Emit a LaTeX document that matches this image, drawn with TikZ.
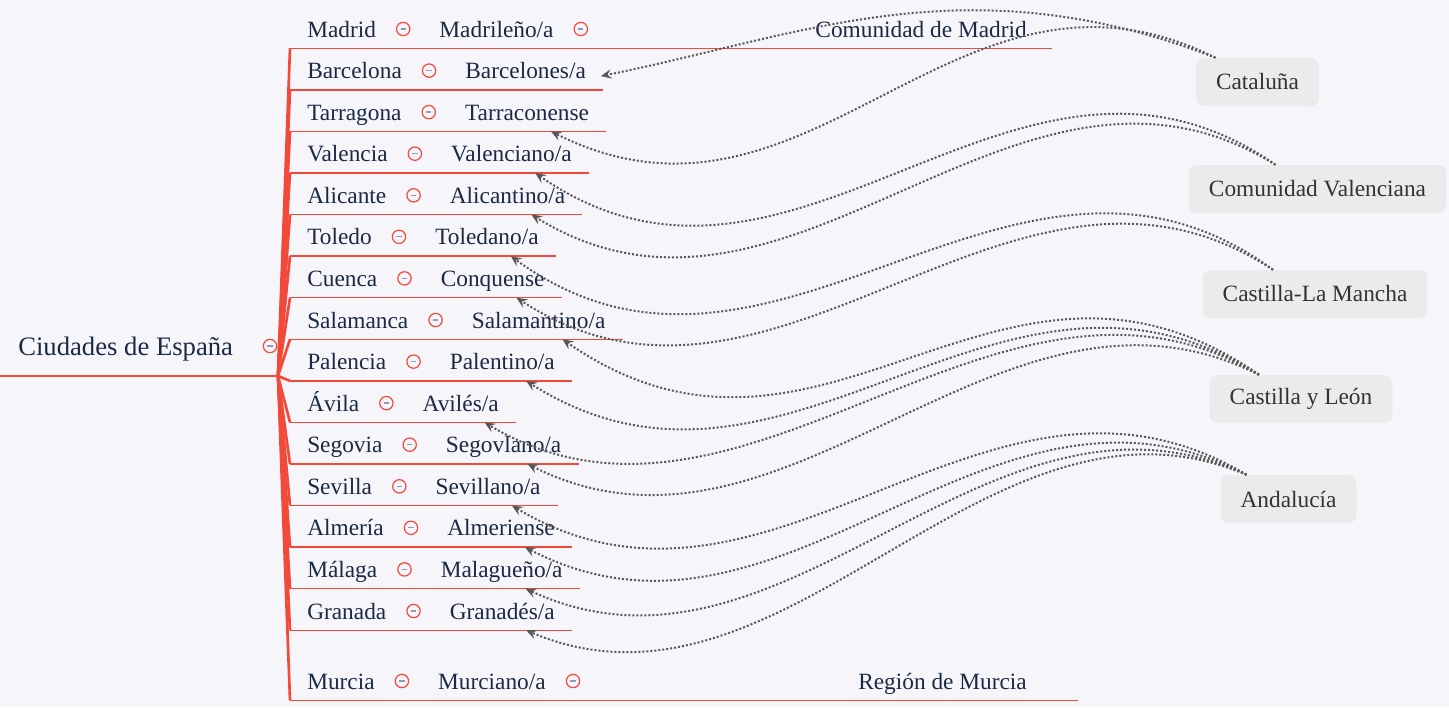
\documentclass[tikz,border=0pt]{standalone}
\usepackage{fontspec}
\setmainfont{Liberation Serif}
\usetikzlibrary{arrows.meta}
\definecolor{mapred}{HTML}{F2493A}
\definecolor{inkblue}{HTML}{1B2A42}
\definecolor{boxgray}{HTML}{EBEBEB}
\definecolor{relgray}{HTML}{585858}
\definecolor{paper}{HTML}{F5F5FA}
\definecolor{dashblue}{HTML}{8D9AB6}
\tikzset{
  city/.style={font=\fontsize{17.5}{20}\selectfont, text=inkblue, inner sep=0pt,
    text height=12pt, text depth=8.25pt, anchor=base west},
  fold/.style={circle, draw=mapred, line width=0.9pt, minimum size=10pt, inner sep=0pt,
    path picture={\draw[dashblue, line width=1pt]
      ([xshift=-2pt]path picture bounding box.center) -- ([xshift=2pt]path picture bounding box.center);}},
  trunk/.style={mapred, line width=2pt},
  branch/.style={mapred, line width=1.1pt},
  region/.style={fill=boxgray, rounded corners=6pt, minimum height=36pt, inner xsep=15pt,
    font=\fontsize{17.5}{20}\selectfont, text=black!80},
  rel/.style={relgray, line width=1.5pt, dash pattern=on 1.5pt off 1.5pt,
    -{Stealth[length=8pt,width=7pt,inset=3pt]}},
}
\begin{document}
\begin{tikzpicture}[x=0.75pt, y=-0.75pt]
\fill[paper] (0,0) rectangle (1449,707);
\useasboundingbox (0,0) rectangle (1449,707);

% root
\coordinate (hub) at (278,376);
\coordinate (rootstart) at (0,376);
\node[city, font=\fontsize{20}{24}\selectfont] (root) at (18,355) {Ciudades de España};
\node[fold] (f0) at (270,346) {};
\draw[branch, line width=1.5pt] (rootstart) -- (hub);

% cities
\foreach \n/\y/\c/\d in {1/37/Madrid/{Madrileño/a}, 2/78.6/Barcelona/{Barcelones/a},
    3/120.1/Tarragona/Tarraconense, 4/161.7/Valencia/{Valenciano/a},
    5/203.3/Alicante/{Alicantino/a}, 6/244.8/Toledo/{Toledano/a},
    7/286.4/Cuenca/Conquense, 8/328/Salamanca/{Salamantino/a},
    9/369.6/Palencia/{Palentino/a}, 10/411.1/Ávila/{Avilés/a},
    11/452.7/Segovia/{Segovlano/a}, 12/494.3/Sevilla/{Sevillano/a},
    13/535.8/Almería/Almeriense, 14/577.4/Málaga/{Malagueño/a},
    15/619/Granada/{Granadés/a}, 16/689/Murcia/{Murciano/a}}{
  \node[city] (c\n) at (307,\y) {\c};
  \node[fold] (f\n) at ([shift={(27,-8)}]c\n.base east) {};
  \node[city] (d\n) at ([shift={(36,8)}]f\n.center) {\d};
  \draw[trunk] (hub) -- ([xshift=-12.75pt]c\n.south west);
  \draw[branch] ([xshift=-12.75pt]c\n.south west) -- ([xshift=12.75pt]d\n.south east);
}

% Madrid, Murcia
\node[fold] (f1b) at ([shift={(27,-8)}]d1.base east) {};
\node[city, anchor=base east] (r1) at (1027,37) {Comunidad de Madrid};
\draw[branch] ([xshift=12.75pt]d1.south east) -- ([xshift=18.75pt]r1.south east);
\node[fold] (f16b) at ([shift={(27,-8)}]d16.base east) {};
\node[city, anchor=base east] (r16) at (1027,689) {Región de Murcia};
\draw[branch] ([xshift=12.75pt]d16.south east) -- ([xshift=38.25pt]r16.south east);

% regions
\node[region] (cat) at (1257.5,82) {Cataluña};
\node[region] (val) at (1317.5,189) {Comunidad Valenciana};
\node[region] (clm) at (1315,294) {Castilla-La Mancha};
\node[region] (cyl) at (1301,399) {Castilla y León};
\node[region] (anda) at (1288.5,499) {Andalucía};

% relations
\draw[rel] (cat.150) .. controls +(-250,-97) and +(200,-40) .. ([xshift=11pt]d2.east);
\draw[rel] (cat.150) .. controls +(-260,-130) and +(260,130) .. (d3.-30);
\draw[rel] (val.150) .. controls +(-260,-180) and +(260,180) .. (d4.-30);
\draw[rel] (val.150) .. controls +(-260,-160) and +(260,160) .. (d5.-30);
\draw[rel] (clm.150) .. controls +(-260,-190) and +(260,190) .. (d6.-30);
\draw[rel] (clm.150) .. controls +(-260,-170) and +(260,170) .. (d7.-30);
\draw[rel] (cyl.150) .. controls +(-260,-180) and +(260,180) .. (d8.-30);
\draw[rel] (cyl.150) .. controls +(-260,-165) and +(260,165) .. (d9.-30);
\draw[rel] (cyl.150) .. controls +(-260,-155) and +(260,155) .. (d10.-30);
\draw[rel] (cyl.150) .. controls +(-260,-130) and +(260,130) .. (d11.-30);
\draw[rel] (anda.150) .. controls +(-260,-155) and +(260,155) .. (d12.-30);
\draw[rel] (anda.150) .. controls +(-260,-135) and +(260,135) .. (d13.-30);
\draw[rel] (anda.150) .. controls +(-260,-120) and +(260,120) .. (d14.-30);
\draw[rel] (anda.150) .. controls +(-260,-110) and +(260,110) .. (d15.-30);
\end{tikzpicture}
\end{document}
